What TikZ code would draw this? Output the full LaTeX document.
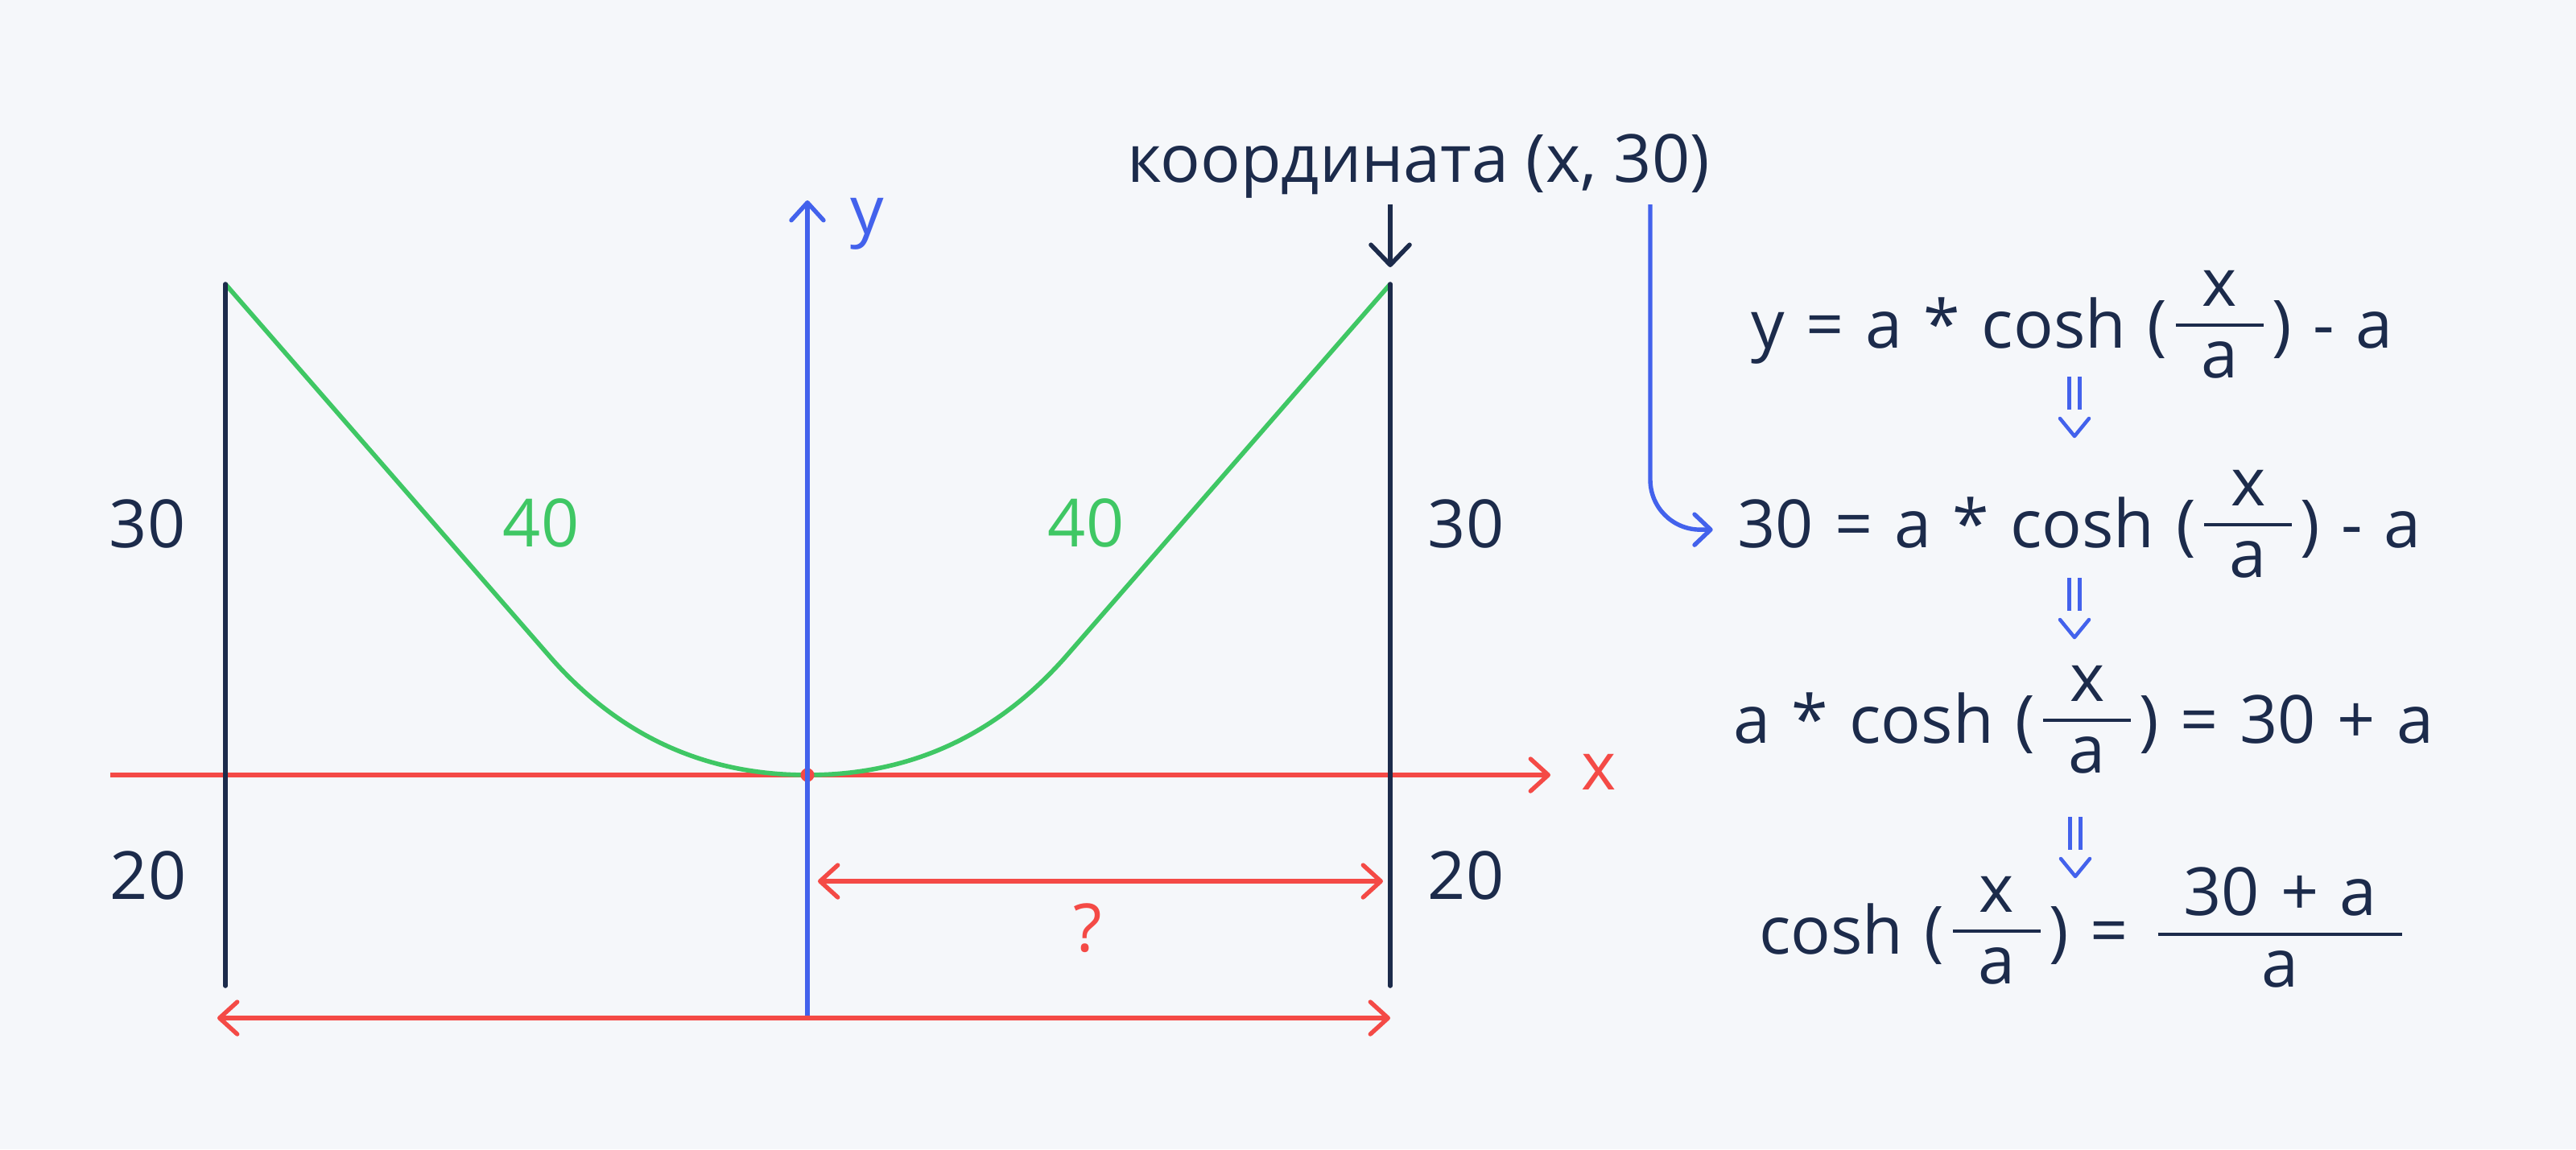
\documentclass[tikz,border=0pt]{standalone}
\usepackage{fontspec}
\setmainfont{Open Sans}
\usepackage{xcolor}
\definecolor{bgpage}{HTML}{F5F7FA}
\definecolor{inkdark}{HTML}{1C2B4B}
\definecolor{curvegreen}{HTML}{3FC764}
\definecolor{axisred}{HTML}{F44A46}
\definecolor{axisblue}{HTML}{4362EC}
\usepackage{tikz}
\usetikzlibrary{arrows.meta,calc}

% text fraction with a rule, centred on the axis
\newcommand{\frc}[2]{\kern3pt{\setlength{\tabcolsep}{9pt}\setlength{\arrayrulewidth}{1pt}%
  \renewcommand{\arraystretch}{0.75}\begin{tabular}{c}#1\\\hline\rule{0pt}{0.64cm}#2\end{tabular}}\kern3pt}
\newcommand{\eqfont}{\fontsize{23.5}{28}\selectfont\spaceskip 0.32em plus 0.1em\relax}

\begin{document}
\begin{tikzpicture}[
    txt/.style={font=\fontsize{23.5}{28}\selectfont, text=inkdark, anchor=base, inner sep=0pt},
    eqn/.style={txt, font=\eqfont},
    post/.style={inkdark, line width=0.056cm, line cap=round},
    barb/.style={-{Straight Barb[length=0.22cm, width=0.40cm, round]}},
    dimline/.style={axisred, line width=0.054cm, {Straight Barb[length=0.22cm, width=0.40cm, round]}-{Straight Barb[length=0.22cm, width=0.40cm, round]}},
    curve/.style={curvegreen, line width=0.056cm},
    implies/.pic={
      \draw[axisblue, line width=0.048cm] (-0.063,0) -- (-0.063,-0.41) (0.063,0) -- (0.063,-0.41);
      \draw[axisblue, line width=0.045cm, line cap=round, line join=round] (-0.18,-0.52) -- (0,-0.74) -- (0.18,-0.52);
    }]
  \fill[bgpage] (0,0) rectangle (32,-14.28);
  \useasboundingbox (0,0) rectangle (32,-14.28);

  \coordinate (O) at (10.03,-9.63);
  \coordinate (ltop) at (2.80,-3.53);
  \coordinate (lbot) at (2.80,-12.25);
  \coordinate (rtop) at (17.27,-3.53);
  \coordinate (rbot) at (17.27,-12.25);
  \coordinate (tap) at (20.50,-2.54);

  % axes and the rope
  \draw[barb, axisred, line width=0.054cm] (1.37,-9.63) -- (19.26,-9.63);
  \draw[curve] (ltop) -- (6.84,-8.17) .. controls (7.69,-9.14) and (8.75,-9.63) .. (O)
    .. controls (11.31,-9.63) and (12.37,-9.14) .. (13.23,-8.17) -- (rtop);
  \draw[post] (ltop) -- (lbot);
  \draw[post] (rtop) -- (rbot);
  \fill[axisred] (O) circle (0.085);
  \draw[barb, axisblue, line width=0.054cm] (10.03,-12.65) -- (10.03,-2.49);
  \node[txt, text=axisblue] (ylbl) at (10.77,-2.90) {y};
  \node[txt, text=axisred] (xlbl) at (19.86,-9.81) {x};

  % dimensions
  \draw[dimline] (10.16,-10.95) -- (17.18,-10.95);
  \draw[dimline] (2.70,-12.65) -- (17.27,-12.65);
  \node[txt, text=axisred] (ask) at (13.51,-11.82) {?};

  \node[txt] (hl) at (1.83,-6.80) {30};
  \node[txt] (hr) at (18.21,-6.80) {30};
  \node[txt] (dl) at (1.84,-11.17) {20};
  \node[txt] (dr) at (18.21,-11.17) {20};
  \node[txt, text=curvegreen] (sl) at (6.72,-6.79) {40};
  \node[txt, text=curvegreen] (sr) at (13.49,-6.79) {40};

  % the point on the post
  \node[txt] (coordlbl) at (17.62,-2.26) {координата (x, 30)};
  \draw[inkdark, line width=0.056cm, -{Straight Barb[length=0.25cm, width=0.48cm, round]},
    shorten <=0.07cm, shorten >=0.21cm] (coordlbl.south -| rtop) -- (rtop);

  % equations
  \node[eqn] (eq1) at (25.74,-4.32) {y = a * cosh (\frc{x}{a}) - a};
  \node[eqn] (eq2) at (25.83,-6.80) {30 = a * cosh (\frc{x}{a}) - a};
  \node[eqn] (eq3) at (25.88,-9.23) {a * cosh (\frc{x}{a}) = 30 + a};
  \node[eqn] (eq4) at (25.90,-11.85) {cosh (\frc{x}{a}) = \frc{30 + a}{a}};
  \pic at (25.77,-4.68) {implies};
  \pic at (25.77,-7.18) {implies};
  \pic at (25.78,-10.15) {implies};
  \draw[axisblue, line width=0.054cm, rounded corners=0.62cm, shorten >=0.30cm,
    -{Straight Barb[length=0.2cm, width=0.38cm, round]}] (tap) |- (eq2.west);
\end{tikzpicture}
\end{document}
